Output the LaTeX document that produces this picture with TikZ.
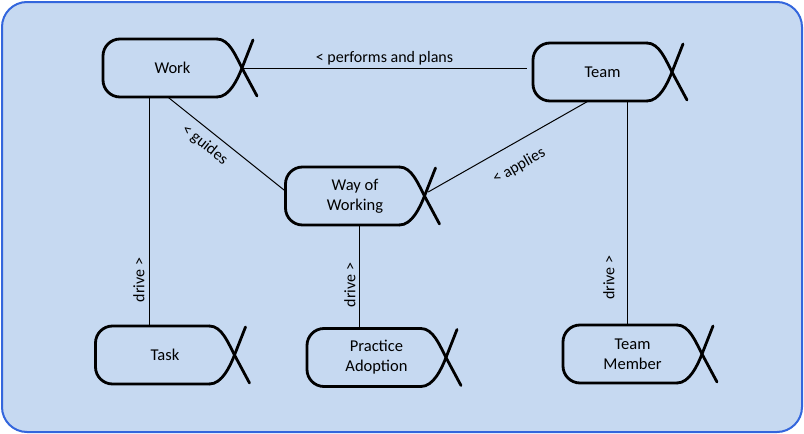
\documentclass[tikz,border=0pt]{standalone}
\usepackage{fontspec}
\setmainfont{Carlito}
\usetikzlibrary{calc}
\definecolor{bgfill}{RGB}{198,217,241}
\definecolor{bgline}{RGB}{51,102,221}
\newcommand\drawalpha[1]{%
  \begin{scope}[shift={(#1.center)}]
    \draw[alphaline, rounded corners=17pt] (44.5,-29) -- (-69.5,-29) -- (-69.5,29) -- (44.5,29);
    \draw[alphaline] (44.5,-29) .. controls (57,-29) and (63.5,-11.2) .. (69.5,0) -- (84.5,28);
    \draw[alphaline] (44.5,29) .. controls (57,29) and (65.1,11.2) .. (69.5,0) -- (80.5,-28);
  \end{scope}}
\begin{document}
\begin{tikzpicture}[x=1pt,y=-1pt,
  alphabox/.style={rectangle, inner sep=0pt, minimum width=139pt, minimum height=58pt,
    align=center, font=\fontsize{16.5}{20}\selectfont},
  alphaline/.style={line width=2.8pt, line cap=round, line join=round},
  link/.style={line width=1pt},
  lab/.style={font=\fontsize{16}{19}\selectfont, inner sep=2pt}]
\useasboundingbox (0,0) rectangle (804,434);
\draw[bgline, fill=bgfill, line width=2pt, rounded corners=25pt] (2,2) rectangle (802,432);

\node[alphabox] (work) at (172.5,68) {Work};
\node[alphabox] (team) at (602.5,72) {Team};
\node[alphabox] (wow) at (355,196) {Way of\\Working};
\node[alphabox] (task) at (165,355) {Task};
\node[alphabox] (pa) at (376.5,357.5) {Practice\\Adoption};
\node[alphabox] (tm) at (632.5,354) {Team\\Member};

\drawalpha{work}
\drawalpha{team}
\drawalpha{wow}
\drawalpha{task}
\drawalpha{pa}
\drawalpha{tm}

\draw[link] (work.east) -- ($(work.east -| team.west)+(-6,0)$)
  node[midway, above, lab] {< performs and plans};
\draw[link] ([xshift=-23.5pt]work.south) -- ([xshift=-23.5pt]work.south |- task.north)
  node[pos=0.8, rotate=90, anchor=south, lab, inner sep=4pt] {drive >};
\draw[link] ([xshift=4pt]wow.south) -- ([xshift=4pt]wow.south |- pa.north)
  node[pos=0.58, rotate=90, anchor=south, lab, inner sep=3pt] {drive >};
\draw[link] ([xshift=24.5pt]team.south) -- ([xshift=24.5pt]team.south |- tm.north)
  node[pos=0.79, rotate=90, anchor=south, lab, inner sep=12pt] {drive >};
\draw[link] ([xshift=-4.5pt]work.south) -- ([yshift=5pt]wow.west)
  node[pos=0.39, sloped, below=5pt, lab] {< guides};
\draw[link] ([shift={(3.5,-4)}]wow.east) -- ([xshift=-14.5pt]team.south)
  node[pos=0.5, sloped, below=13pt, lab] {< applies};
\end{tikzpicture}
\end{document}
